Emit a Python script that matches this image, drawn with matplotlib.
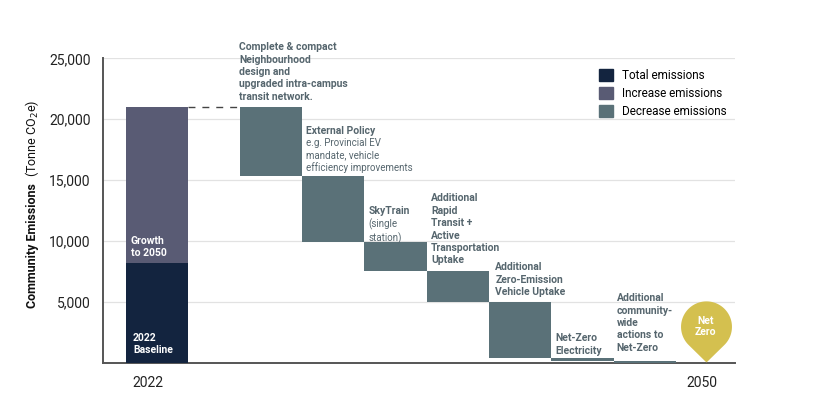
import numpy as np
import matplotlib
matplotlib.use("Agg")
import matplotlib.pyplot as plt
from matplotlib.patches import Patch
from matplotlib.path import Path
from matplotlib import font_manager as fm

# pick a narrow-ish font if one is there
names = {f.name for f in fm.fontManager.ttflist}
FONT = "Liberation Sans Narrow" if "Liberation Sans Narrow" in names else "Roboto"
plt.rcParams["font.family"] = [FONT, "DejaVu Sans"]

# data (tonnes CO2e)
baseline_2022 = 8200
total_2050 = 21000
step_levels = [21000, 15300, 9900, 7500, 5000, 350, 150, 0]
step_labels = [
    "Complete & compact\nNeighbourhood\ndesign and\nupgraded intra-campus\ntransit network.",
    "External Policy",
    "SkyTrain",
    "Additional\nRapid\nTransit +\nActive\nTransportation\nUptake",
    "Additional\nZero-Emission\nVehicle Uptake",
    "Net-Zero\nElectricity",
    "Additional\ncommunity-\nwide\nactions to\nNet-Zero",
]
step_notes = ["", "e.g. Provincial EV\nmandate, vehicle\nefficiency improvements",
              "(single\nstation)", "", "", "", ""]
yticks = [5000, 10000, 15000, 20000, 25000]
year_labels = ["2022", "2050"]

c_total = "#13243f"
c_inc = "#595b74"
c_dec = "#5a7178"
c_pin = "#d4c04f"
c_text = "#56666e"

fig = plt.figure(figsize=(8.14, 4.12), dpi=100)
ax = fig.add_axes([0.1265, 0.1201, 0.7765, 0.738])

# 2022 bar
ax.bar(0, baseline_2022, width=1.0, color=c_total, zorder=3)
ax.bar(0, total_2050 - baseline_2022, bottom=baseline_2022, width=1.0, color=c_inc, zorder=3)

# decrease steps
x_steps = 1.83 + np.arange(len(step_labels))
tops = np.array(step_levels[:-1])
bottoms = np.array(step_levels[1:])
ax.bar(x_steps, tops - bottoms, bottom=bottoms, width=1.0, color=c_dec, zorder=3)

# dashed connector from 2022 top to first step
ax.plot([0.5, x_steps[0] - 0.5], [total_2050, total_2050], ls=(0, (5, 5)),
        color="#444444", lw=1, zorder=2)

# labels inside 2022 bar
ax.text(-0.42, 10430, "Growth\nto 2050", color="white", fontsize=7.5,
        fontweight="bold", va="top", ha="left", linespacing=1.3, zorder=4)
ax.text(-0.385, 2430, "2022\nBaseline", color="white", fontsize=7.5,
        fontweight="bold", va="top", ha="left", linespacing=1.3, zorder=4)

# step labels
label_pos = [(1.316, 26340), (2.39, 19440), (3.39, 12850), (4.40, 13900),
             (5.43, 8230), (6.39, 2400), (7.38, 5700)]
note_top = {1: 18450, 2: 11850}
for i, (lx, ly) in enumerate(label_pos):
    ax.text(lx, ly, step_labels[i], color=c_text, fontsize=7.5, fontweight="bold",
            va="top", ha="left", linespacing=1.3, clip_on=False, zorder=4)
    if step_notes[i]:
        ax.text(lx, note_top[i], step_notes[i], color=c_text, fontsize=7,
                va="top", ha="left", linespacing=1.25, zorder=4)

# net zero pin marker (tip at origin)
r, d = 1.0, 1.4
a = np.arccos(r / d)
ang = np.linspace(-np.pi / 2 + a, 3 * np.pi / 2 - a, 80)
verts = np.vstack([[0, 0], np.column_stack([r * np.cos(ang), d + r * np.sin(ang)]), [0, 0]])
codes = [Path.MOVETO] + [Path.LINETO] * (len(verts) - 2) + [Path.CLOSEPOLY]
pin = Path(verts, codes)
x_pin = 8.81
ax.plot(x_pin, 80, marker=pin, markersize=88, color=c_pin, mec="none", zorder=5,
        clip_on=False)
ax.text(x_pin, 2950, "Net\nZero", color="white", fontsize=7.5, fontweight="bold",
        ha="center", va="center", linespacing=1.2, zorder=6)

# axes styling
ax.set_xlim(-0.867, 9.28)
ax.set_ylim(0, 25000)
ax.set_yticks(yticks)
ax.set_yticklabels([f"{v:,}" for v in yticks], fontsize=10, color="#222222")
ax.set_xticks([-0.15, 8.74])
ax.set_xticklabels(year_labels, fontsize=10, color="#222222")
ax.tick_params(axis="both", length=0)
ax.tick_params(axis="x", pad=10)
ax.tick_params(axis="y", pad=9)
ax.yaxis.grid(True, color="#e2e2e2", lw=0.9, zorder=0)
ax.set_axisbelow(True)
for s in ["top", "right"]:
    ax.spines[s].set_visible(False)
for s in ["left", "bottom"]:
    ax.spines[s].set_color("#555555")
    ax.spines[s].set_linewidth(1.4)

# y label: bold part + normal part
ax.text(-0.112, 0.589, "Community Emissions", transform=ax.transAxes, rotation=90,
        fontsize=9, fontweight="bold", color="#111111", ha="center", va="top")
ax.text(-0.112, 0.60, " (Tonne CO$_2$e)", transform=ax.transAxes, rotation=90,
        fontsize=9, color="#111111", ha="center", va="bottom")

handles = [Patch(color=c_total, label="Total emissions"),
           Patch(color=c_inc, label="Increase emissions"),
           Patch(color=c_dec, label="Decrease emissions")]
fig.legend(handles=handles, loc="upper left", bbox_to_anchor=(0.7295, 0.845),
           frameon=False, fontsize=8.5, handlelength=1.2, handleheight=1.2,
           handletextpad=0.75, labelspacing=0.45, borderaxespad=0)

fig.savefig("out.png", dpi=100)
